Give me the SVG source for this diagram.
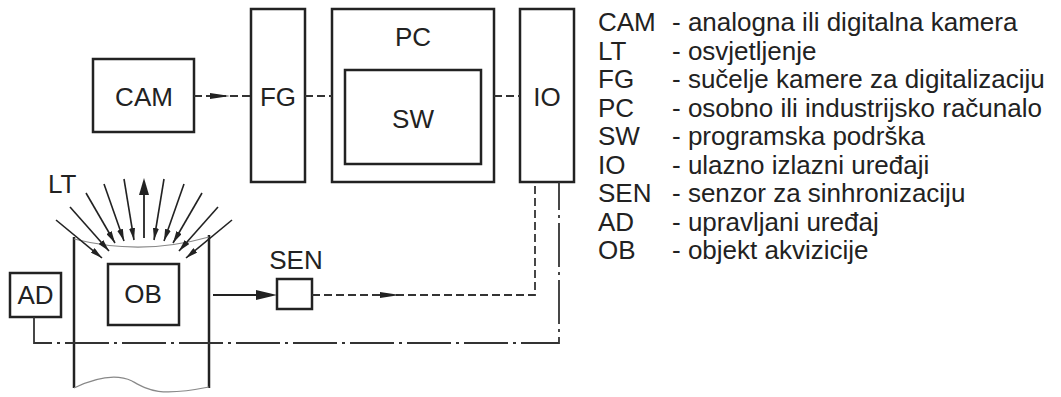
<svg xmlns="http://www.w3.org/2000/svg" width="1061" height="397" viewBox="0 0 1061 397">
<defs>
<style>
.box{fill:none;stroke:#222;stroke-width:2.5}
.t{font-family:"Liberation Sans",Arial,sans-serif;font-size:26px;fill:#222;text-anchor:middle}
.lg{font-family:"Liberation Sans",Arial,sans-serif;font-size:26px;fill:#222}
.dash{fill:none;stroke:#333;stroke-width:1.8;stroke-dasharray:8 4}
.dd{fill:none;stroke:#333;stroke-width:1.8;stroke-dasharray:44 5 3 5}
.solid{fill:none;stroke:#222;stroke-width:1.8}
.ray{stroke:#222;stroke-width:1.6;marker-end:url(#ah)}
.head{fill:#222}
.curve{fill:none;stroke:#888;stroke-width:1.2}
</style>
<marker id="ah" viewBox="0 0 12 6" refX="12" refY="3" markerWidth="12" markerHeight="6" markerUnits="userSpaceOnUse" orient="auto">
<path d="M0,0 L12,3 L0,6 z" fill="#222"/>
</marker>
</defs>
<rect width="1061" height="397" fill="#fff"/>

<g id="CAM"><rect class="box" x="93" y="59" width="101" height="73"/><text class="t" x="144" y="106">CAM</text></g>
<g id="FG"><rect class="box" x="251" y="9" width="54" height="173"/><text class="t" x="278" y="106">FG</text></g>
<g id="PC"><rect class="box" x="332" y="9" width="162" height="173"/><text class="t" x="413" y="46">PC</text></g>
<g id="SW"><rect class="box" x="345" y="70" width="136" height="94"/><text class="t" x="413" y="128">SW</text></g>
<g id="IO"><rect class="box" x="520" y="9" width="54" height="173"/><text class="t" x="547" y="106">IO</text></g>
<g id="SEN"><rect class="box" x="277" y="279" width="35" height="30"/><text class="t" x="296" y="269">SEN</text></g>
<g id="AD"><rect class="box" x="10" y="273" width="51" height="44"/><text class="t" x="35.5" y="304">AD</text></g>
<g id="OBJ">
<line x1="74" y1="237" x2="74" y2="388" stroke="#222" stroke-width="2.5"/>
<line x1="209" y1="235" x2="209" y2="388" stroke="#222" stroke-width="2.5"/>
<path class="curve" d="M74,239 Q142,256 209,237"/>
<path class="curve" d="M74,388 C95,378 115,373 132,381 C148,390 158,397 209,387"/>
</g>
<g id="OB"><rect class="box" x="108" y="264" width="71" height="61"/><text class="t" x="143" y="303">OB</text></g>
<g id="LT">
<text class="lg" x="48" y="193">LT</text>
<line class="ray" x1="56" y1="220" x2="102" y2="258"/>
<line class="ray" x1="70" y1="207" x2="109" y2="251"/>
<line class="ray" x1="86" y1="193" x2="115" y2="243"/>
<line class="ray" x1="104" y1="184" x2="124" y2="241"/>
<line class="ray" x1="124" y1="179" x2="134" y2="240"/>
<line class="ray" x1="164" y1="179" x2="154" y2="240"/>
<line class="ray" x1="184" y1="184" x2="164" y2="241"/>
<line class="ray" x1="202" y1="193" x2="173" y2="243"/>
<line class="ray" x1="218" y1="207" x2="179" y2="251"/>
<line class="ray" x1="232" y1="220" x2="186" y2="258"/>
<line x1="144" y1="238" x2="144" y2="190" stroke="#222" stroke-width="1.8"/>
<polygon class="head" points="144,178 149,195 139,195"/>
</g>

<g id="connectors">
<line class="dash" x1="194" y1="96" x2="251" y2="96"/>
<polygon class="head" points="230,96 210,93 210,99"/>
<line class="dash" x1="305" y1="96" x2="332" y2="96"/>
<line class="dash" x1="494" y1="96" x2="520" y2="96"/>
<line class="solid" x1="213" y1="295" x2="260" y2="295"/>
<polygon class="head" points="277,295 256,290 256,300"/>
<path class="dash" d="M312,295 H535 V182"/>
<polygon class="head" points="400,295 380,292 380,298"/>
<path class="dd" d="M34,317 V343 H559 V182"/>
</g>

<g id="legend" class="lg">
<text x="598" y="31">CAM</text><text x="672" y="31">- analogna ili digitalna kamera</text>
<text x="598" y="59.5">LT</text><text x="672" y="59.5">- osvjetljenje</text>
<text x="598" y="88">FG</text><text x="672" y="88">- sučelje kamere za digitalizaciju</text>
<text x="598" y="116.5">PC</text><text x="672" y="116.5">- osobno ili industrijsko računalo</text>
<text x="598" y="145">SW</text><text x="672" y="145">- programska podrška</text>
<text x="598" y="173.5">IO</text><text x="672" y="173.5">- ulazno izlazni uređaji</text>
<text x="598" y="202">SEN</text><text x="672" y="202">- senzor za sinhronizaciju</text>
<text x="598" y="230.5">AD</text><text x="672" y="230.5">- upravljani uređaj</text>
<text x="598" y="259">OB</text><text x="672" y="259">- objekt akvizicije</text>
</g>
</svg>
